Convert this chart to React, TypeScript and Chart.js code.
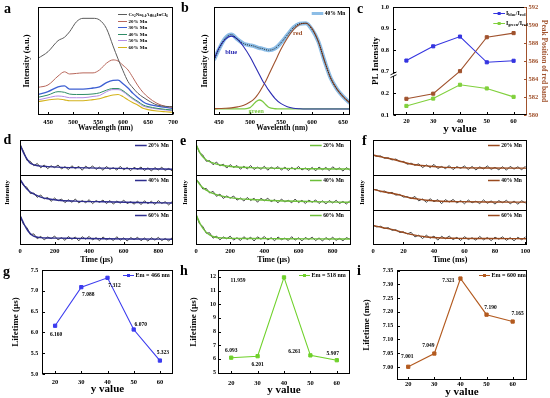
import React, { useEffect, useRef } from "react";
import { Chart, registerables, LinearScale } from "chart.js";

const SERIF = "'Liberation Serif', 'Times New Roman', serif";
const BROWN = "#a0522d";

// ---------------- data: panel a ----------------
const A_WL = [430, 450, 470, 483, 493, 507, 520, 540, 553, 567, 580, 590, 600, 610, 620, 630, 640, 650, 668, 685, 700];
const A_PRISTINE = [0.525, 0.586, 0.688, 0.72, 0.77, 0.864, 0.895, 0.895, 0.88, 0.8, 0.64, 0.52, 0.41, 0.31, 0.25, 0.2, 0.165, 0.135, 0.093, 0.08, 0.077];
const A_MN20 = [0.256, 0.278, 0.36, 0.4, 0.38, 0.385, 0.39, 0.39, 0.417, 0.48, 0.51, 0.5, 0.46, 0.417, 0.345, 0.27, 0.21, 0.165, 0.108, 0.08, 0.07];
const A_MN30 = [0.19, 0.216, 0.26, 0.27, 0.24, 0.24, 0.24, 0.25, 0.26, 0.3, 0.32, 0.322, 0.29, 0.25, 0.2, 0.16, 0.123, 0.1, 0.083, 0.07, 0.062];
const A_MN40 = [0.164, 0.185, 0.216, 0.21, 0.194, 0.19, 0.19, 0.195, 0.205, 0.23, 0.245, 0.245, 0.225, 0.19, 0.154, 0.125, 0.093, 0.078, 0.062, 0.052, 0.046];
const A_MN50 = [0.139, 0.16, 0.176, 0.17, 0.16, 0.16, 0.16, 0.172, 0.18, 0.216, 0.235, 0.235, 0.216, 0.18, 0.145, 0.115, 0.083, 0.07, 0.056, 0.046, 0.04];
const A_MN60 = [0.123, 0.139, 0.148, 0.14, 0.132, 0.132, 0.132, 0.142, 0.15, 0.17, 0.185, 0.19, 0.17, 0.14, 0.114, 0.09, 0.062, 0.05, 0.037, 0.03, 0.025];
const A_TICKS = [450, 500, 550, 600, 650, 700];

// ---------------- data: panel b ----------------
const B_WL = [442, 450, 460, 470, 480, 490, 500, 505, 510, 515, 520, 525, 530, 540, 550, 560, 570, 580, 590, 600, 610, 620, 630, 640, 650, 661];
const B_MEAS = [0.51, 0.61, 0.71, 0.745, 0.7, 0.66, 0.645, 0.64, 0.63, 0.62, 0.615, 0.605, 0.6, 0.615, 0.67, 0.74, 0.81, 0.845, 0.85, 0.79, 0.68, 0.5, 0.34, 0.24, 0.17, 0.11];
const B_BLUE = [0.51, 0.62, 0.7, 0.73, 0.7, 0.63, 0.54, 0.485, 0.43, 0.375, 0.32, 0.275, 0.23, 0.155, 0.105, 0.077, 0.063, 0.058, 0.056, 0.056, 0.056, 0.056, 0.056, 0.056, 0.056, 0.056];
const B_RED = [0.058, 0.06, 0.062, 0.066, 0.075, 0.09, 0.12, 0.14, 0.17, 0.21, 0.26, 0.31, 0.37, 0.49, 0.61, 0.71, 0.79, 0.84, 0.85, 0.8, 0.68, 0.5, 0.34, 0.24, 0.17, 0.11];
const B_GREEN = [0.056, 0.056, 0.056, 0.056, 0.056, 0.057, 0.068, 0.095, 0.125, 0.139, 0.127, 0.098, 0.072, 0.058, 0.056, 0.056, 0.056, 0.056, 0.056, 0.056, 0.056, 0.056, 0.056, 0.056, 0.056, 0.056];
const B_TICKS = [450, 500, 550, 600, 650];

// ---------------- data: panel c ----------------
const Y_VALUES = [20, 30, 40, 50, 60];
const C_BLUE = [0.752, 0.818, 0.863, 0.744, 0.751];
const C_GREEN = [0.142, 0.176, 0.24, 0.223, 0.184];
const C_PEAK = [581.8, 582.37, 584.87, 588.64, 589.1];
const C_LEFT_TICKS = [0.1, 0.2, 0.7, 0.8, 0.9, 1.0];
const C_RIGHT_TICKS = [580, 582, 584, 586, 588, 590, 592];
const Y_TICKS = [20, 30, 40, 50, 60];

// ---------------- data: panels d, e, f (decays) ----------------
const D_NT = [0, 20, 40, 60, 80, 100, 120, 140, 160, 180, 200, 220, 240, 260, 280, 300, 320, 340, 360, 380, 400, 420, 440, 460, 480, 500, 520, 540, 560, 580, 600, 620, 640, 660, 680, 700, 720, 740, 760, 780, 800, 820, 840, 860, 880, 900];
const D20N = [0.88, 0.68, 0.42, 0.39, 0.265, 0.33, 0.205, 0.287, 0.18, 0.265, 0.21, 0.285, 0.172, 0.239, 0.156, 0.263, 0.18, 0.248, 0.136, 0.254, 0.182, 0.26, 0.158, 0.226, 0.135, 0.243, 0.162, 0.21, 0.139, 0.247, 0.146, 0.215, 0.123, 0.222, 0.16, 0.229, 0.128, 0.206, 0.115, 0.214, 0.142, 0.221, 0.13, 0.188, 0.117, 0.205];
const D40N = [0.88, 0.7, 0.65, 0.47, 0.485, 0.36, 0.43, 0.315, 0.36, 0.247, 0.343, 0.26, 0.315, 0.21, 0.295, 0.22, 0.315, 0.202, 0.27, 0.207, 0.295, 0.182, 0.27, 0.217, 0.285, 0.183, 0.271, 0.169, 0.257, 0.195, 0.283, 0.181, 0.239, 0.167, 0.255, 0.154, 0.263, 0.182, 0.25, 0.159, 0.268, 0.187, 0.236, 0.144, 0.242, 0.17];
const D60N = [0.85, 0.59, 0.5, 0.295, 0.317, 0.177, 0.25, 0.145, 0.23, 0.178, 0.257, 0.145, 0.214, 0.133, 0.242, 0.161, 0.23, 0.119, 0.237, 0.166, 0.245, 0.144, 0.212, 0.121, 0.23, 0.149, 0.198, 0.128, 0.237, 0.136, 0.205, 0.114, 0.214, 0.153, 0.222, 0.121, 0.201, 0.11, 0.209, 0.139, 0.218, 0.127, 0.187, 0.116, 0.206, 0.165];
const E20N = [0.88, 0.64, 0.57, 0.393, 0.41, 0.293, 0.37, 0.26, 0.31, 0.198, 0.297, 0.215, 0.27, 0.165, 0.25, 0.175, 0.27, 0.157, 0.225, 0.162, 0.25, 0.137, 0.225, 0.172, 0.24, 0.139, 0.228, 0.127, 0.216, 0.155, 0.244, 0.143, 0.202, 0.131, 0.22, 0.119, 0.228, 0.148, 0.217, 0.126, 0.235, 0.154, 0.203, 0.112, 0.211, 0.14];
const E40N = [0.88, 0.77, 0.6, 0.617, 0.485, 0.533, 0.39, 0.455, 0.33, 0.403, 0.337, 0.4, 0.282, 0.344, 0.256, 0.358, 0.27, 0.336, 0.221, 0.337, 0.263, 0.338, 0.234, 0.299, 0.205, 0.313, 0.23, 0.278, 0.205, 0.313, 0.21, 0.278, 0.185, 0.283, 0.22, 0.288, 0.186, 0.265, 0.173, 0.271, 0.199, 0.277, 0.185, 0.244, 0.172, 0.26];
const E60N = [0.88, 0.61, 0.53, 0.337, 0.35, 0.195, 0.255, 0.147, 0.23, 0.177, 0.253, 0.14, 0.209, 0.128, 0.237, 0.156, 0.225, 0.114, 0.234, 0.163, 0.243, 0.142, 0.211, 0.121, 0.23, 0.15, 0.199, 0.129, 0.238, 0.138, 0.207, 0.117, 0.216, 0.156, 0.225, 0.125, 0.204, 0.114, 0.213, 0.143, 0.222, 0.132, 0.191, 0.121, 0.21, 0.17];
const F_NT = [0, 2.5, 5, 7.5, 10, 12.5, 15, 17.5, 20, 22.5, 25, 27.5, 30, 32.5, 35, 37.5, 40, 42.5, 45, 47.5, 50, 52.5, 55, 57.5, 60, 62.5, 65, 67.5, 70, 72.5, 75, 77.5, 80, 82.5, 85, 87.5, 90, 92.5, 95, 97.5, 100];
const F20N = [0.57, 0.53, 0.545, 0.478, 0.49, 0.43, 0.457, 0.383, 0.388, 0.308, 0.338, 0.277, 0.32, 0.21, 0.29, 0.211, 0.303, 0.184, 0.245, 0.181, 0.268, 0.154, 0.24, 0.189, 0.258, 0.156, 0.245, 0.144, 0.233, 0.171, 0.26, 0.16, 0.219, 0.149, 0.238, 0.138, 0.247, 0.167, 0.236, 0.146, 0.255];
const F40N = [0.59, 0.58, 0.52, 0.542, 0.481, 0.504, 0.425, 0.445, 0.368, 0.383, 0.323, 0.387, 0.26, 0.315, 0.22, 0.322, 0.235, 0.297, 0.18, 0.297, 0.225, 0.302, 0.2, 0.269, 0.178, 0.286, 0.205, 0.254, 0.183, 0.291, 0.19, 0.26, 0.169, 0.268, 0.208, 0.277, 0.177, 0.256, 0.166, 0.265, 0.195];
const F60N = [0.56, 0.515, 0.535, 0.472, 0.496, 0.419, 0.437, 0.358, 0.373, 0.318, 0.362, 0.231, 0.28, 0.185, 0.28, 0.193, 0.255, 0.138, 0.25, 0.178, 0.255, 0.153, 0.22, 0.129, 0.239, 0.158, 0.207, 0.137, 0.246, 0.146, 0.215, 0.125, 0.224, 0.164, 0.233, 0.133, 0.212, 0.121, 0.221, 0.15, 0.23];
const DE_FIT_T = [0, 10, 25, 40, 55, 70, 90, 120, 160, 220, 320, 480, 680, 900];
const D20F = [0.88, 0.75, 0.59, 0.46, 0.36, 0.31, 0.28, 0.255, 0.24, 0.225, 0.21, 0.195, 0.18, 0.165];
const D40F = [0.88, 0.8, 0.69, 0.6, 0.53, 0.48, 0.43, 0.37, 0.32, 0.28, 0.255, 0.235, 0.215, 0.2];
const D60F = [0.85, 0.74, 0.58, 0.45, 0.35, 0.28, 0.235, 0.21, 0.2, 0.195, 0.19, 0.18, 0.172, 0.165];
const E20F = [0.88, 0.77, 0.62, 0.52, 0.45, 0.4, 0.36, 0.31, 0.27, 0.235, 0.21, 0.19, 0.18, 0.17];
const E40F = [0.88, 0.81, 0.71, 0.64, 0.58, 0.54, 0.49, 0.44, 0.39, 0.34, 0.3, 0.265, 0.24, 0.22];
const E60F = [0.88, 0.76, 0.6, 0.48, 0.39, 0.32, 0.26, 0.215, 0.2, 0.19, 0.185, 0.18, 0.175, 0.17];
const F_FIT_T = [0, 6, 13, 19, 24, 30, 35, 45, 55, 75, 101];
const F20F = [0.57, 0.51, 0.45, 0.38, 0.32, 0.28, 0.26, 0.225, 0.21, 0.2, 0.195];
const F40F = [0.59, 0.53, 0.47, 0.41, 0.35, 0.31, 0.28, 0.25, 0.24, 0.23, 0.225];
const F60F = [0.56, 0.5, 0.44, 0.37, 0.31, 0.26, 0.23, 0.2, 0.19, 0.185, 0.18];
const DE_TICKS = [0, 200, 400, 600, 800];
const F_TICKS = [0, 20, 40, 60, 80, 100];

// ---------------- data: panels g, h, i ----------------
const G_LIFE = [6.16, 7.088, 7.312, 6.07, 5.323];
const H_LIFE = [6.093, 6.201, 11.959, 6.261, 5.907];
const I_LIFE = [7.001, 7.049, 7.321, 7.19, 7.165];
const G_TICKS = [5.0, 5.5, 6.0, 6.5, 7.0, 7.5];
const H_TICKS = [5, 6, 7, 8, 9, 10, 11, 12];
const I_TICKS = [7.0, 7.05, 7.1, 7.15, 7.2, 7.25, 7.3, 7.35];

// ---------------- broken axis scale ----------------
class BrokenLinearScale extends (LinearScale as any) {
  static id = "brokenLinear";
  static defaults = {};
  mapValue(v: number) {
    const g = (this as any).options.breakGap || [0, 0];
    return v <= g[0] ? v : v >= g[1] ? g[0] + (v - g[1]) : g[0];
  }
  configure() {
    super.configure();
    const self = this as any;
    const s = this.mapValue(self.min);
    const e = this.mapValue(self.max);
    self._startValue = s;
    self._endValue = e;
    self._valueRange = e - s;
  }
  getPixelForValue(value: number) {
    const self = this as any;
    if (value === null || value === undefined || isNaN(value)) return NaN;
    return self.getPixelForDecimal((this.mapValue(value) - self._startValue) / self._valueRange);
  }
}

Chart.register(...registerables, BrokenLinearScale as any);
Chart.defaults.font.family = SERIF;

// ---------------- helpers ----------------
const font = (size: number) => ({ family: SERIF, size, weight: "bold" as const });
const zip = (xs: number[], ys: number[]) => xs.map((x, i) => ({ x, y: ys[i] }));
const SMOOTH = { tension: 0.4, cubicInterpolationMode: "monotone" };

function line(label: string, xs: number[], ys: number[], color: string, width: number, extra: any = {}) {
  return {
    label,
    data: zip(xs, ys),
    borderColor: color,
    backgroundColor: color,
    borderWidth: width,
    pointRadius: 0,
    fill: false,
    tension: 0,
    ...extra,
  };
}

function xAxis(o: any) {
  return {
    type: "linear",
    position: "bottom",
    min: o.min,
    max: o.max,
    grid: { display: false, drawTicks: false },
    border: { display: false },
    ticks: {
      color: "#000",
      font: font(o.tickSize ?? 6.5),
      padding: o.pad,
      autoSkip: false,
      maxRotation: 0,
      minRotation: 0,
      callback: (v: any) => Number(v).toFixed(o.dec ?? 0),
    },
    afterBuildTicks: (s: any) => {
      s.ticks = o.ticks.map((v: number) => ({ value: v }));
    },
    afterFit: (s: any) => {
      s.height = o.height;
      s.paddingLeft = 0;
      s.paddingRight = 0;
    },
    title: { display: true, text: o.title, color: "#000", font: font(o.titleSize), padding: { top: 0, bottom: o.titlePad } },
  };
}

function yAxis(o: any) {
  const ax: any = {
    type: o.type ?? "linear",
    position: o.position ?? "left",
    min: o.min,
    max: o.max,
    grid: { display: false, drawTicks: false },
    border: { display: false },
    ticks: {
      display: !!o.ticks,
      color: o.color ?? "#000",
      font: font(o.tickSize ?? 6),
      padding: o.pad ?? 3,
      autoSkip: false,
      callback: (v: any) => Number(v).toFixed(o.dec ?? 0),
    },
    afterBuildTicks: (s: any) => {
      if (o.ticks) s.ticks = o.ticks.map((v: number) => ({ value: v }));
    },
    afterFit: (s: any) => {
      s.width = o.width;
      s.paddingTop = 0;
      s.paddingBottom = 0;
    },
    title: {
      display: !!o.title,
      text: o.title ?? "",
      color: o.color ?? "#000",
      font: font(o.titleSize ?? 8),
      padding: { top: o.titlePad ?? 0, bottom: 0 },
    },
  };
  if (o.stack) {
    ax.stack = o.stack;
    ax.stackWeight = 1;
  }
  if (o.breakGap) ax.breakGap = o.breakGap;
  return ax;
}

function baseOptions(pad: { top: number; right: number }, scales: any) {
  return {
    responsive: false,
    animation: false,
    devicePixelRatio: 1,
    events: [],
    layout: { padding: { top: pad.top, right: pad.right, left: 0, bottom: 0 } },
    scales,
    plugins: { legend: { display: false }, tooltip: { enabled: false }, title: { display: false } },
  };
}

function drawRich(ctx: CanvasRenderingContext2D, text: string, x: number, y: number, size: number, color: string) {
  const parts: [string, boolean][] = [];
  const re = /_\{([^}]*)\}/g;
  let last = 0;
  let m: RegExpExecArray | null;
  while ((m = re.exec(text))) {
    if (m.index > last) parts.push([text.slice(last, m.index), false]);
    parts.push([m[1], true]);
    last = re.lastIndex;
  }
  if (last < text.length) parts.push([text.slice(last), false]);
  ctx.fillStyle = color;
  ctx.textBaseline = "middle";
  ctx.textAlign = "left";
  let cx = x;
  for (const [t, sub] of parts) {
    const s = sub ? size * 0.68 : size;
    ctx.font = `bold ${s}px ${SERIF}`;
    ctx.fillText(t, cx, sub ? y + size * 0.3 : y);
    cx += ctx.measureText(t).width;
  }
}

// frame: box around plot, inward ticks, separators, axis break
function frame(o: any) {
  return {
    id: "frame",
    afterDatasetsDraw(chart: any) {
      const { ctx, chartArea: a } = chart;
      const L = Math.round(a.left) + 0.5;
      const T = Math.round(a.top) + 0.5;
      const R = Math.round(a.right) - 0.5;
      const B = Math.round(a.bottom) - 0.5;
      ctx.save();
      ctx.lineWidth = 1;
      ctx.strokeStyle = "#000";
      ctx.strokeRect(L, T, R - L, B - T);
      if (o.rightColor) {
        ctx.strokeStyle = o.rightColor;
        ctx.beginPath();
        ctx.moveTo(R, T);
        ctx.lineTo(R, B);
        ctx.stroke();
      }
      (o.seps || []).forEach((id: string) => {
        const y = Math.round(chart.scales[id].bottom) + 0.5;
        ctx.strokeStyle = "#000";
        ctx.beginPath();
        ctx.moveTo(L, y);
        ctx.lineTo(R, y);
        ctx.stroke();
      });
      (o.ticks || []).forEach((t: any) => {
        const s = chart.scales[t.id];
        ctx.strokeStyle = t.color || "#000";
        s.ticks.forEach((_tk: any, i: number) => {
          const p = Math.round(s.getPixelForTick(i)) + 0.5;
          ctx.beginPath();
          if (t.side === "bottom") {
            ctx.moveTo(p, B);
            ctx.lineTo(p, B - t.len);
          } else if (t.side === "left") {
            ctx.moveTo(L, p);
            ctx.lineTo(L + t.len, p);
          } else {
            ctx.moveTo(R, p);
            ctx.lineTo(R - t.len, p);
          }
          ctx.stroke();
        });
      });
      if (o.brk) {
        const s = chart.scales[o.brk.id];
        const y = s.getPixelForValue(o.brk.at) + o.brk.dy;
        ctx.fillStyle = "#fff";
        ctx.fillRect(L - 1.5, y - 1.2, 3, 2.4);
        ctx.strokeStyle = "#000";
        ctx.lineWidth = 0.9;
        [-1.4, 1.4].forEach((d) => {
          ctx.beginPath();
          ctx.moveTo(L - 3, y + d + 1.4);
          ctx.lineTo(L + 3, y + d - 1.4);
          ctx.stroke();
        });
      }
      ctx.restore();
    },
  };
}

function miniLegend(o: any) {
  return {
    id: "miniLegend",
    afterDraw(chart: any) {
      const { ctx, chartArea: a } = chart;
      ctx.save();
      o.items.forEach((it: any, k: number) => {
        const ds = chart.data.datasets[it.ds];
        const top = it.anchor ? chart.scales[it.anchor].top : a.top;
        const y = Math.round(top + o.dy + (it.anchor ? 0 : k * (o.row || 0))) + 0.5;
        const x0 = a.right + o.dx;
        const col = ds.borderColor;
        ctx.strokeStyle = col;
        ctx.lineWidth = o.lw;
        ctx.beginPath();
        ctx.moveTo(x0, y);
        ctx.lineTo(x0 + o.len, y);
        ctx.stroke();
        if (o.marker) {
          ctx.fillStyle = col;
          ctx.fillRect(x0 + o.len / 2 - o.marker / 2, y - o.marker / 2, o.marker, o.marker);
        }
        drawRich(ctx, ds.label, x0 + o.len + o.gap, y, o.size, "#000");
      });
      ctx.restore();
    },
  };
}

function valueLabels(o: any) {
  return {
    id: "valueLabels",
    afterDatasetsDraw(chart: any) {
      const { ctx } = chart;
      const meta = chart.getDatasetMeta(0);
      const data = chart.data.datasets[0].data;
      ctx.save();
      ctx.font = `bold ${o.size}px ${SERIF}`;
      ctx.fillStyle = "#000";
      ctx.textAlign = "center";
      ctx.textBaseline = "middle";
      meta.data.forEach((el: any, i: number) => {
        ctx.fillText(Number(data[i].y).toFixed(3), el.x + o.offsets[i][0], el.y + o.offsets[i][1]);
      });
      ctx.restore();
    },
  };
}

function notes(o: any) {
  return {
    id: "notes",
    afterDatasetsDraw(chart: any) {
      const { ctx } = chart;
      const sx = chart.scales.x;
      const sy = chart.scales.y;
      ctx.save();
      ctx.font = `bold ${o.size}px ${SERIF}`;
      ctx.textAlign = "center";
      ctx.textBaseline = "middle";
      o.items.forEach((n: any) => {
        ctx.fillStyle = n.color;
        ctx.fillText(n.text, sx.getPixelForValue(n.x), sy.getPixelForValue(n.y));
      });
      ctx.restore();
    },
  };
}

// ---------------- panel configs ----------------
type Panel = { key: string; rect: [number, number, number, number]; build: () => any };

function decayPanel(p: any) {
  const stackY = (title?: boolean) =>
    yAxis({
      min: 0,
      max: 1,
      width: p.yWidth,
      stack: "decay",
      title: title ? "Intensity" : undefined,
      titleSize: 6.5,
      titlePad: p.yTitlePad,
    });
  return {
    type: "line",
    data: {
      datasets: [
        line("20% Mn", p.fitT, p.fits[0], p.color, 1.4, { ...SMOOTH, yAxisID: "y20" }),
        line("40% Mn", p.fitT, p.fits[1], p.color, 1.4, { ...SMOOTH, yAxisID: "y40" }),
        line("60% Mn", p.fitT, p.fits[2], p.color, 1.4, { ...SMOOTH, yAxisID: "y60" }),
        line("", p.noiseT, p.noise[0], "#333333", 0.9, { yAxisID: "y20" }),
        line("", p.noiseT, p.noise[1], "#333333", 0.9, { yAxisID: "y40" }),
        line("", p.noiseT, p.noise[2], "#333333", 0.9, { yAxisID: "y60" }),
      ],
    },
    options: baseOptions(
      { top: 7, right: p.padRight },
      {
        x: xAxis({ min: 0, max: p.xMax, ticks: p.xTicks, pad: 2.8, height: 20, title: p.xTitle, titleSize: 8, titlePad: 0.2 }),
        // stacked axes are laid out bottom-up in definition order
        y60: stackY(false),
        y40: stackY(true),
        y20: stackY(false),
      }
    ),
    plugins: [
      frame({ ticks: [{ id: "x", side: "bottom", len: 2.5 }], seps: ["y20", "y40"] }),
      miniLegend({
        items: [
          { ds: 0, anchor: "y20" },
          { ds: 1, anchor: "y40" },
          { ds: 2, anchor: "y60" },
        ],
        dx: p.legendDx,
        dy: 5,
        len: 11.7,
        gap: 1.6,
        size: 5.5,
        lw: 1.5,
      }),
    ],
  };
}

function lifetimePanel(p: any) {
  return {
    type: "line",
    data: {
      datasets: [
        line(p.label, Y_VALUES, p.values, p.color, 1.1, {
          pointRadius: 2.3,
          pointStyle: "rect",
          pointBorderWidth: 1,
          pointBorderColor: p.color,
          pointBackgroundColor: p.color,
        }),
      ],
    },
    options: baseOptions(
      { top: p.padTop, right: p.padRight },
      {
        x: xAxis({ min: p.xMin, max: p.xMax, ticks: Y_TICKS, pad: p.xPad, height: p.xHeight, title: "y value", titleSize: 11, titlePad: p.xTitlePad }),
        y: yAxis({
          min: p.yMin,
          max: p.yMax,
          ticks: p.yTicks,
          dec: p.dec,
          width: p.yWidth,
          pad: p.yPad,
          tickSize: 6,
          title: p.yTitle,
          titleSize: 9,
          titlePad: p.yTitlePad,
        }),
      }
    ),
    plugins: [
      frame({
        ticks: [
          { id: "x", side: "bottom", len: 2.5 },
          { id: "y", side: "left", len: 2.5 },
        ],
      }),
      miniLegend({ items: [{ ds: 0 }], dx: p.legendDx, dy: 5.3, len: 11, gap: 1.5, size: 6, lw: 1, marker: 3 }),
      valueLabels({ offsets: p.offsets, size: 5.5 }),
    ],
  };
}

const PANELS: Panel[] = [
  {
    key: "a",
    rect: [0, 0, 181, 136],
    build: () => ({
      type: "line",
      data: {
        datasets: [
          line("Cs_{2}Na_{0.4}Ag_{0.6}InCl_{6}", A_WL, A_PRISTINE, "#5b5b5b", 1, SMOOTH),
          line("20% Mn", A_WL, A_MN20, "#b8675b", 1, SMOOTH),
          line("30% Mn", A_WL, A_MN30, "#3c5fd2", 1.3, SMOOTH),
          line("40% Mn", A_WL, A_MN40, "#2f8c66", 1, SMOOTH),
          line("50% Mn", A_WL, A_MN50, "#b58ce6", 1, SMOOTH),
          line("60% Mn", A_WL, A_MN60, "#d4b31c", 1.1, SMOOTH),
        ],
      },
      options: baseOptions(
        { top: 7, right: 8 },
        {
          x: xAxis({ min: 430, max: 700, ticks: A_TICKS, pad: 3, height: 21, title: "Wavelength (nm)", titleSize: 7.5, titlePad: 3.2 }),
          y: yAxis({ min: 0, max: 1, width: 38, title: "Intensity (a.u.)", titleSize: 8.5, titlePad: 21.6 }),
        }
      ),
      plugins: [
        frame({ ticks: [{ id: "x", side: "bottom", len: 2.5 }] }),
        miniLegend({ items: [0, 1, 2, 3, 4, 5].map((ds) => ({ ds })), dx: -55, dy: 7, row: 6.5, len: 9, gap: 1.5, size: 5, lw: 1 }),
      ],
    }),
  },
  {
    key: "b",
    rect: [179, 0, 182, 136],
    build: () => ({
      type: "line",
      data: {
        datasets: [
          line("", B_WL, B_MEAS, "#151515", 0.9, { ...SMOOTH, borderDash: [1, 1.2] }),
          line("blue", B_WL, B_BLUE, "#2b2bb3", 1.1, SMOOTH),
          line("red", B_WL, B_RED, "#a0522d", 1.1, SMOOTH),
          line("green", B_WL, B_GREEN, "#7cc943", 1.3, SMOOTH),
          line("40% Mn", B_WL, B_MEAS, "#8cbde6", 4, SMOOTH),
        ],
      },
      options: baseOptions(
        { top: 7, right: 11 },
        {
          x: xAxis({ min: 442, max: 661, ticks: B_TICKS, pad: 3, height: 21, title: "Wavelenth (nm)", titleSize: 7.5, titlePad: 3.8 }),
          y: yAxis({ min: 0, max: 1, width: 35, title: "Intensity (a.u.)", titleSize: 8.5, titlePad: 20.9 }),
        }
      ),
      plugins: [
        frame({ ticks: [{ id: "x", side: "bottom", len: 2.5 }] }),
        notes({
          size: 6.5,
          items: [
            { text: "blue", x: 469.7, y: 0.583, color: "#2b2bb3" },
            { text: "red", x: 576.8, y: 0.76, color: "#a0522d" },
            { text: "green", x: 510, y: 0.03, color: "#7cc943" },
          ],
        }),
        miniLegend({ items: [{ ds: 4 }], dx: -38.3, dy: 6, len: 11.6, gap: 1.5, size: 5.5, lw: 3 }),
      ],
    }),
  },
  {
    key: "c",
    rect: [357, 0, 193, 136],
    build: () => ({
      type: "line",
      data: {
        datasets: [
          line("I_{blue}/I_{red}", Y_VALUES, C_BLUE, "#3434e0", 1.1, { pointRadius: 2.2, pointStyle: "rect", pointBorderWidth: 1, yAxisID: "y" }),
          line("I_{green}/I_{red}", Y_VALUES, C_GREEN, "#80d03c", 1.1, { pointRadius: 2.2, pointStyle: "rect", pointBorderWidth: 1, yAxisID: "y" }),
          line("Peak Position", Y_VALUES, C_PEAK, BROWN, 1.1, { pointRadius: 2.2, pointStyle: "rect", pointBorderWidth: 1, yAxisID: "y2" }),
        ],
      },
      options: baseOptions(
        { top: 7, right: 0 },
        {
          x: xAxis({ min: 15, max: 65, ticks: Y_TICKS, pad: 2.3, height: 21, title: "y value", titleSize: 11, titlePad: -0.2 }),
          y: yAxis({
            type: "brokenLinear",
            breakGap: [0.3, 0.7],
            min: 0.1,
            max: 1.0,
            ticks: C_LEFT_TICKS,
            dec: 1,
            width: 36,
            pad: 4,
            tickSize: 6.5,
            title: "PL Intensity",
            titleSize: 9,
            titlePad: 13.6,
          }),
          y2: yAxis({
            position: "right",
            min: 580,
            max: 592,
            ticks: C_RIGHT_TICKS,
            dec: 0,
            width: 23,
            pad: 1.5,
            tickSize: 6.5,
            color: BROWN,
            title: "Peak Position of red band",
            titleSize: 7.5,
            titlePad: 1.5,
          }),
        }
      ),
      plugins: [
        frame({
          ticks: [
            { id: "x", side: "bottom", len: 2.5 },
            { id: "y", side: "left", len: 2.5 },
            { id: "y2", side: "right", len: 2.5, color: BROWN },
          ],
          rightColor: BROWN,
          brk: { id: "y", at: 0.7, dy: 3 },
        }),
        miniLegend({ items: [{ ds: 0 }, { ds: 1 }], dx: -33.7, dy: 6.3, row: 9.4, len: 11.7, gap: 1, size: 6, lw: 1, marker: 3 }),
      ],
    }),
  },
  {
    key: "d",
    rect: [0, 133, 181, 132],
    build: () =>
      decayPanel({
        fitT: DE_FIT_T,
        fits: [D20F, D40F, D60F],
        noiseT: D_NT,
        noise: [D20N, D40N, D60N],
        color: "#2e2e8e",
        xMax: 885,
        xTicks: DE_TICKS,
        xTitle: "Time (μs)",
        yWidth: 20,
        yTitlePad: 3.4,
        padRight: 8,
        legendDx: -38,
      }),
  },
  {
    key: "e",
    rect: [179, 133, 182, 132],
    build: () =>
      decayPanel({
        fitT: DE_FIT_T,
        fits: [E20F, E40F, E60F],
        noiseT: D_NT,
        noise: [E20N, E40N, E60N],
        color: "#6cbf3a",
        xMax: 907,
        xTicks: DE_TICKS,
        xTitle: "Time (μs)",
        yWidth: 17,
        yTitlePad: 2.6,
        padRight: 10,
        legendDx: -41,
      }),
  },
  {
    key: "f",
    rect: [357, 133, 193, 132],
    build: () =>
      decayPanel({
        fitT: F_FIT_T,
        fits: [F20F, F40F, F60F],
        noiseT: F_NT,
        noise: [F20N, F40N, F60N],
        color: "#9a4a1e",
        xMax: 101,
        xTicks: F_TICKS,
        xTitle: "Time (ms)",
        yWidth: 16,
        yTitlePad: 1.6,
        padRight: 23,
        legendDx: -39,
      }),
  },
  {
    key: "g",
    rect: [0, 265, 181, 133],
    build: () =>
      lifetimePanel({
        label: "Em = 466 nm",
        values: G_LIFE,
        color: "#3b3bef",
        padTop: 3,
        padRight: 8,
        xMin: 15,
        xMax: 65,
        xPad: 4.4,
        xHeight: 24,
        xTitlePad: 1.9,
        yMin: 5.0,
        yMax: 7.5,
        yTicks: G_TICKS,
        dec: 1,
        yWidth: 42,
        yPad: 3.7,
        yTitle: "Lifetime (μs)",
        yTitlePad: 10.6,
        legendDx: -50,
        offsets: [[1, 9], [7, 7.5], [7, 7.5], [7, -5], [3, -8]],
      }),
  },
  {
    key: "h",
    rect: [179, 265, 182, 133],
    build: () =>
      lifetimePanel({
        label: "Em = 518 nm",
        values: H_LIFE,
        color: "#6fd12a",
        padTop: 3,
        padRight: 11,
        xMin: 15,
        xMax: 65,
        xPad: 5,
        xHeight: 24,
        xTitlePad: 0.9,
        yMin: 4.9,
        yMax: 12.5,
        yTicks: H_TICKS,
        dec: 0,
        yWidth: 39,
        yPad: 2,
        yTitle: "Lifetime (μs)",
        yTitlePad: 8.9,
        legendDx: -51,
        offsets: [[0, -7], [0, 8], [-46, 3], [-16, -4], [-4, -7]],
      }),
  },
  {
    key: "i",
    rect: [357, 265, 193, 133],
    build: () =>
      lifetimePanel({
        label: "Em = 600 nm",
        values: I_LIFE,
        color: "#b35a1f",
        padTop: 3,
        padRight: 23,
        xMin: 15.7,
        xMax: 65.5,
        xPad: 0.6,
        xHeight: 18,
        xTitlePad: -0.3,
        yMin: 6.953,
        yMax: 7.352,
        yTicks: I_TICKS,
        dec: 2,
        yWidth: 40,
        yPad: 3.7,
        yTitle: "Lifetime (ms)",
        yTitlePad: 4.3,
        legendDx: -48,
        offsets: [[-1, -10], [-6, -8], [-12, 2], [4, -7], [5, -8]],
      }),
  },
];

const LETTERS: [string, number, number][] = [
  ["a", 4, 14],
  ["b", 181, 12.3],
  ["c", 357, 13.5],
  ["d", 3.5, 145],
  ["e", 180, 146],
  ["f", 362, 146],
  ["g", 3, 276.5],
  ["h", 180, 275.7],
  ["i", 357, 275.7],
];

function ChartPanel({ rect, build }: { rect: [number, number, number, number]; build: () => any }) {
  const ref = useRef<HTMLCanvasElement>(null);
  useEffect(() => {
    if (!ref.current) return;
    const chart = new Chart(ref.current, build());
    return () => chart.destroy();
  }, []);
  return (
    <canvas
      ref={ref}
      width={rect[2]}
      height={rect[3]}
      style={{ position: "absolute", left: rect[0], top: rect[1], width: rect[2], height: rect[3] }}
    />
  );
}

export default function App() {
  return (
    <div style={{ position: "fixed", left: 0, top: 0, width: 550, height: 398, background: "#fff", overflow: "hidden" }}>
      {PANELS.map((p) => (
        <ChartPanel key={p.key} rect={p.rect} build={p.build} />
      ))}
      {LETTERS.map(([t, x, base]) => (
        <div
          key={t}
          style={{
            position: "absolute",
            left: x,
            top: base - 11.7,
            fontFamily: SERIF,
            fontWeight: "bold",
            fontSize: 14,
            lineHeight: "14px",
            color: "#000",
          }}
        >
          {t}
        </div>
      ))}
    </div>
  );
}
